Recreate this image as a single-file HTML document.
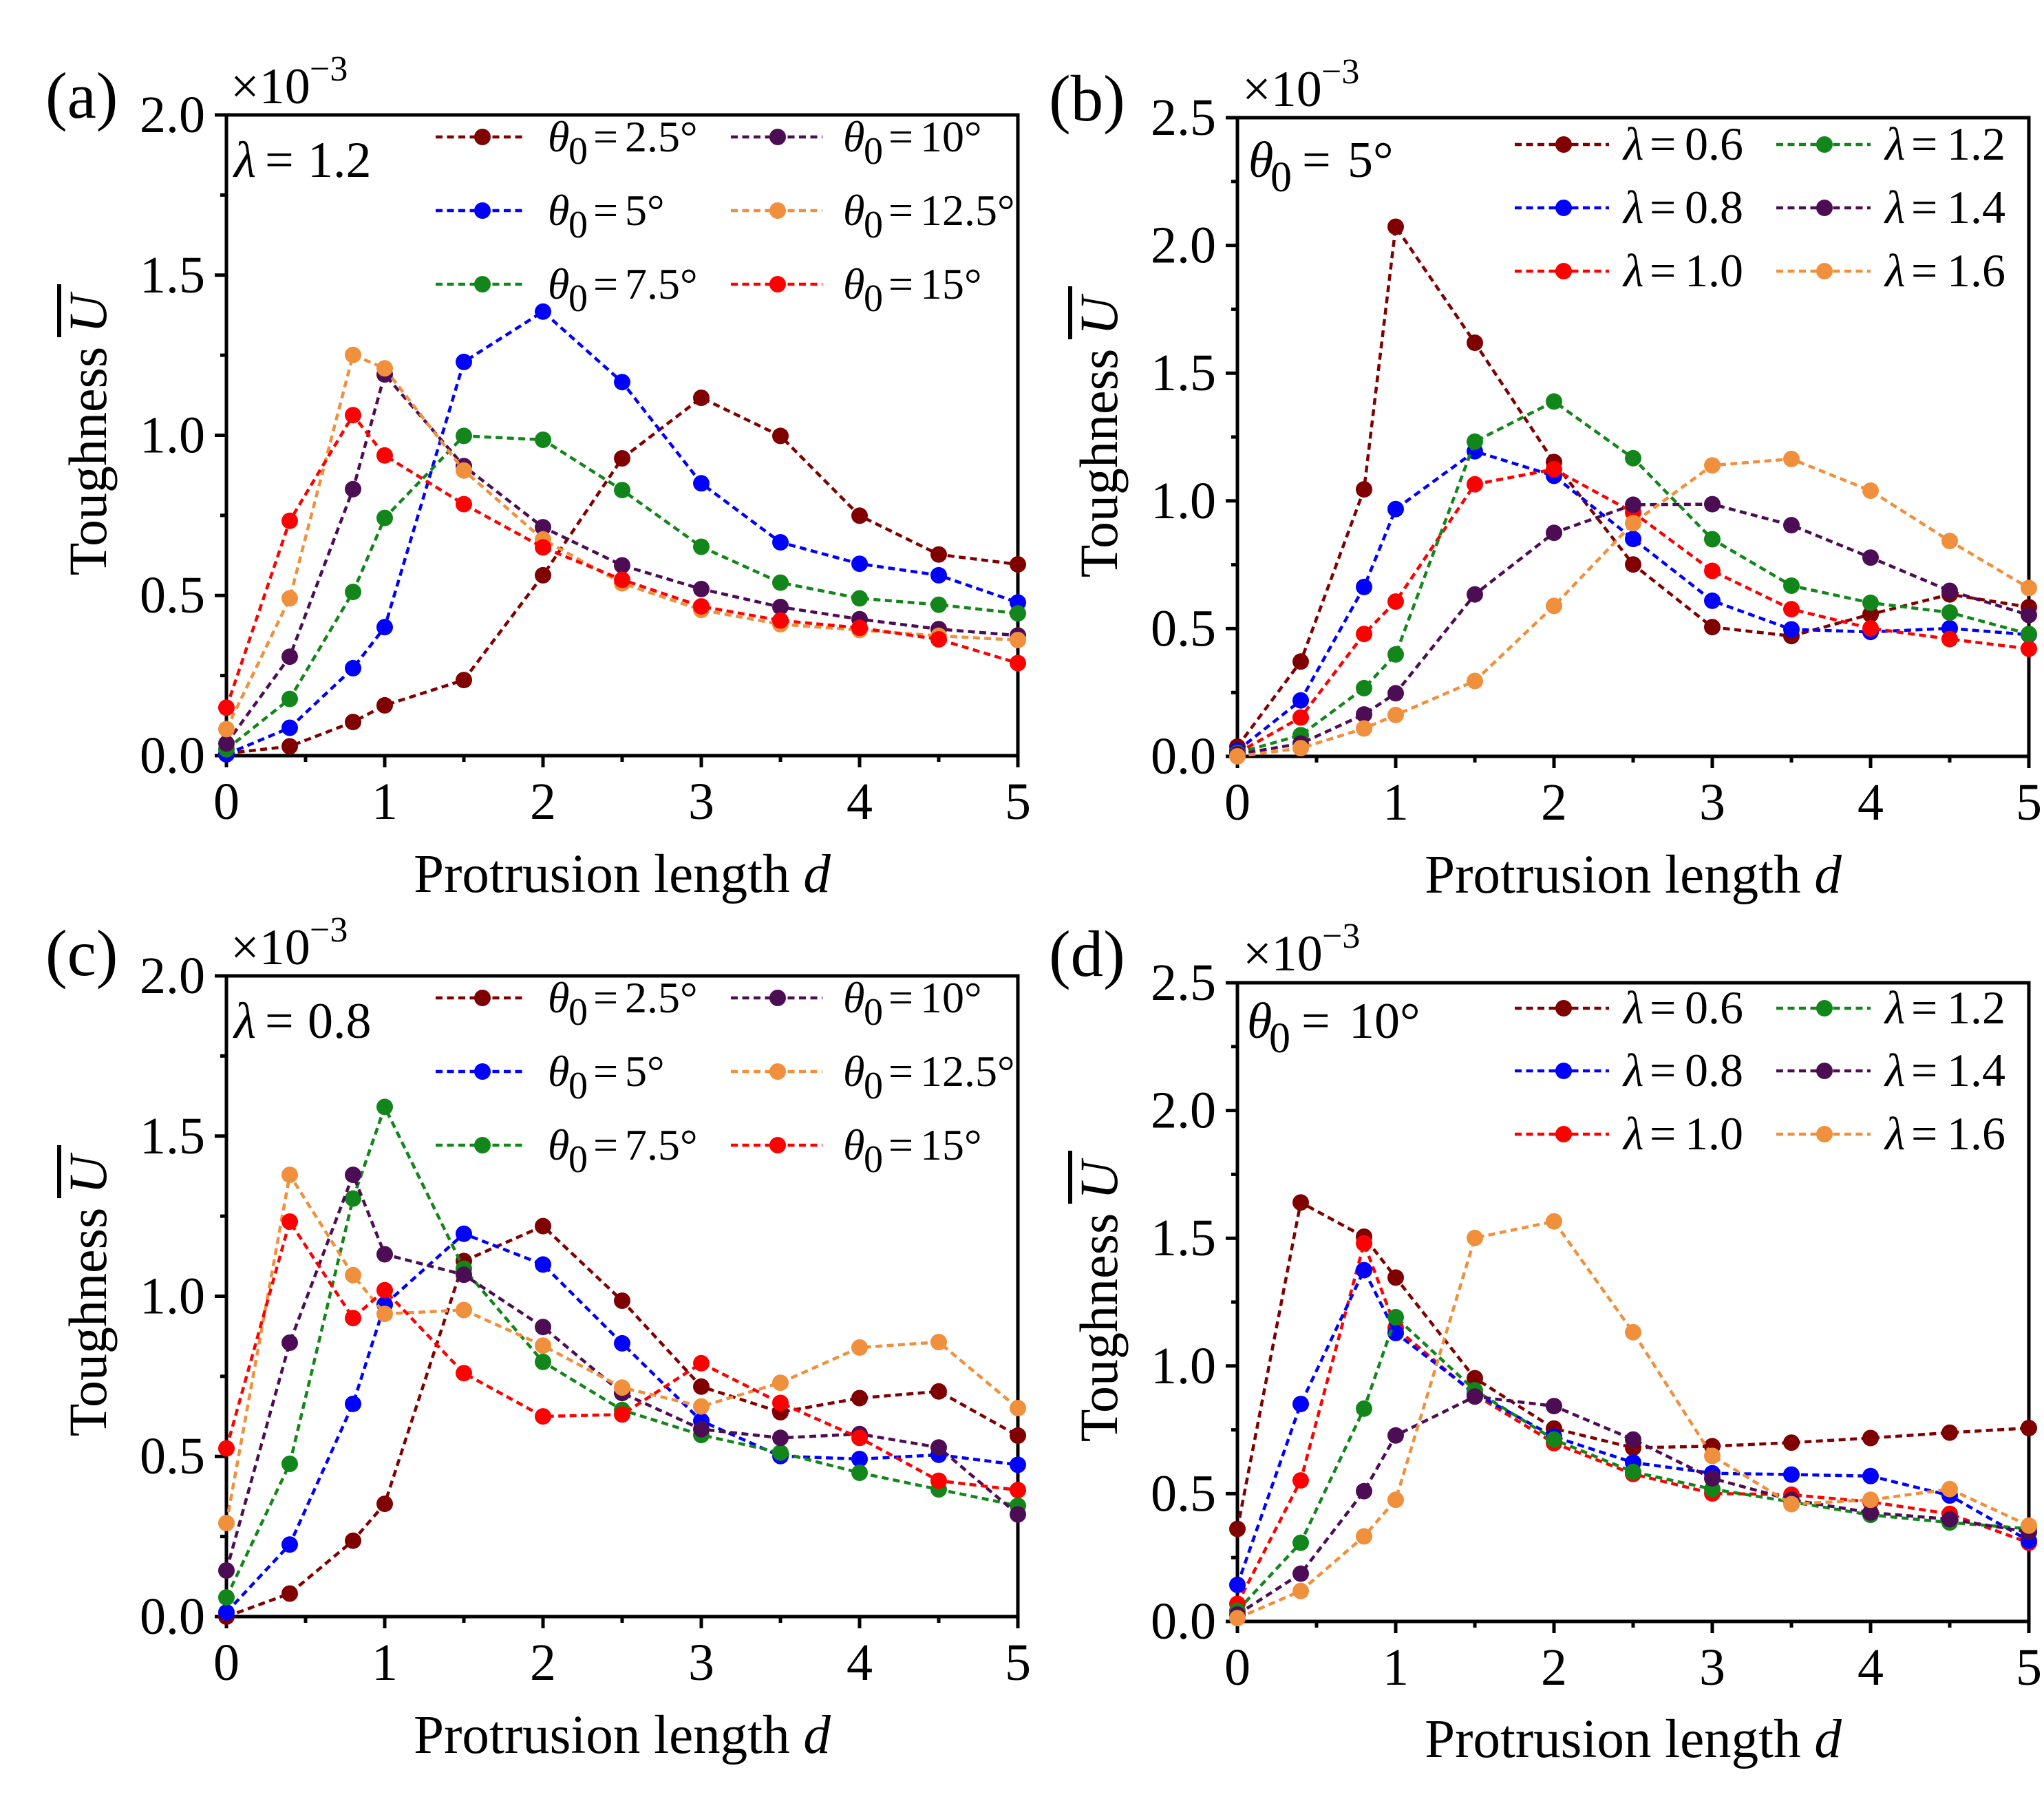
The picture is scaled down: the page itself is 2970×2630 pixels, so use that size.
<!DOCTYPE html>
<html><head><meta charset="utf-8"><style>
html,body{margin:0;padding:0;background:#fff}
svg{display:block}
text{font-family:"Liberation Serif","Times New Roman",serif;fill:#000}
.s{fill:none;stroke-width:4.5;stroke-dasharray:10 6.5}
.ax{fill:none;stroke:#000;stroke-width:5}
.tk{fill:none;stroke:#000;stroke-width:5}
.tl{font-size:76px}
.it{font-style:italic}
</style></head><body>
<svg xmlns="http://www.w3.org/2000/svg" width="2970" height="2630" viewBox="0 0 2970 2630">
<defs>
<marker id="m1" viewBox="-13 -13 26 26" markerWidth="26" markerHeight="26" markerUnits="userSpaceOnUse" refX="0" refY="0"><circle r="12" fill="#800000"/></marker>
<marker id="m2" viewBox="-13 -13 26 26" markerWidth="26" markerHeight="26" markerUnits="userSpaceOnUse" refX="0" refY="0"><circle r="12" fill="#0000ff"/></marker>
<marker id="m3" viewBox="-13 -13 26 26" markerWidth="26" markerHeight="26" markerUnits="userSpaceOnUse" refX="0" refY="0"><circle r="12" fill="#12861a"/></marker>
<marker id="m4" viewBox="-13 -13 26 26" markerWidth="26" markerHeight="26" markerUnits="userSpaceOnUse" refX="0" refY="0"><circle r="12" fill="#4d0d55"/></marker>
<marker id="m5" viewBox="-13 -13 26 26" markerWidth="26" markerHeight="26" markerUnits="userSpaceOnUse" refX="0" refY="0"><circle r="12" fill="#f0903c"/></marker>
<marker id="m6" viewBox="-13 -13 26 26" markerWidth="26" markerHeight="26" markerUnits="userSpaceOnUse" refX="0" refY="0"><circle r="12" fill="#ff0000"/></marker>
</defs>

<!-- ===================== PANEL (a) ===================== -->
<rect class="ax" x="329" y="167" width="1150" height="931"/>
<path class="tk" d="M312 1098H329M312 865.25H329M312 632.5H329M312 399.75H329M312 167H329M320 981.6H329M320 748.9H329M320 516.1H329M320 283.4H329M329 1098V1115M559 1098V1115M789 1098V1115M1019 1098V1115M1249 1098V1115M1479 1098V1115M444 1098V1107M674 1098V1107M904 1098V1107M1134 1098V1107M1364 1098V1107"/>
<g class="tl" text-anchor="end"><text x="298" y="1123">0.0</text><text x="298" y="890">0.5</text><text x="298" y="657.5">1.0</text><text x="298" y="425">1.5</text><text x="298" y="192">2.0</text></g>
<g class="tl" text-anchor="middle"><text x="329" y="1190">0</text><text x="559" y="1190">1</text><text x="789" y="1190">2</text><text x="1019" y="1190">3</text><text x="1249" y="1190">4</text><text x="1479" y="1190">5</text></g>
<text x="904" y="1296" text-anchor="middle" font-size="79">Protrusion length <tspan class="it">d</tspan></text>
<text transform="translate(154,632) rotate(-90)" text-anchor="middle" font-size="78">Toughness <tspan class="it">U</tspan></text>
<line x1="86" y1="413" x2="86" y2="490" stroke="#000" stroke-width="6"/>
<text x="66" y="171" font-size="95">(a)</text>
<text x="335" y="150" font-size="74">×10</text><text x="450" y="117" font-size="52">−3</text>
<text y="257" font-size="74"><tspan x="340" class="it">λ</tspan><tspan x="385">=</tspan><tspan x="447">1.2</tspan></text>

<polyline class="s" stroke="#800000" marker-start="url(#m1)" marker-mid="url(#m1)" marker-end="url(#m1)" points="329,1094.7 421,1084.5 513,1049.1 559,1024.9 674,988.1 789,835.9 904,666 1019,578 1134,633.4 1249,749.3 1364,805.7 1479,820.1"/>
<polyline class="s" stroke="#0000ff" marker-start="url(#m2)" marker-mid="url(#m2)" marker-end="url(#m2)" points="329,1096.1 421,1057.5 513,970.9 559,911.3 674,525.9 789,452.8 904,555.2 1019,702.3 1134,788 1249,819.2 1364,835.9 1479,875.5"/>
<polyline class="s" stroke="#12861a" marker-start="url(#m3)" marker-mid="url(#m3)" marker-end="url(#m3)" points="329,1088.7 421,1015.6 513,860.1 559,752.6 674,633.4 789,639 904,712.1 1019,794.5 1134,846.6 1249,869.4 1364,878.7 1479,891.3"/>
<polyline class="s" stroke="#4d0d55" marker-start="url(#m4)" marker-mid="url(#m4)" marker-end="url(#m4)" points="329,1080.3 421,954.2 513,710.7 559,544.1 674,677.2 789,766.1 904,821.5 1019,855.9 1134,882 1249,899.7 1364,914.1 1479,923.4"/>
<polyline class="s" stroke="#f0903c" marker-start="url(#m5)" marker-mid="url(#m5)" marker-end="url(#m5)" points="329,1059.4 421,869.4 513,515.7 559,535.2 674,683.7 789,783.8 904,847.6 1019,886.2 1134,907.1 1249,915.5 1364,923.9 1479,930"/>
<polyline class="s" stroke="#ff0000" marker-start="url(#m6)" marker-mid="url(#m6)" marker-end="url(#m6)" points="329,1028.2 421,756.8 513,603.2 559,661.8 674,732.6 789,795.4 904,842.4 1019,881.1 1134,901.6 1249,912.3 1364,929 1479,963.5"/>

<!-- legend a -->
<line class="s" x1="633" y1="199" x2="765" y2="199" stroke="#800000"/><circle cx="701" cy="199" r="12" fill="#800000"/>
<line class="s" x1="633" y1="306" x2="765" y2="306" stroke="#0000ff"/><circle cx="701" cy="306" r="12" fill="#0000ff"/>
<line class="s" x1="633" y1="413" x2="765" y2="413" stroke="#12861a"/><circle cx="701" cy="413" r="12" fill="#12861a"/>
<line class="s" x1="1062" y1="199" x2="1195" y2="199" stroke="#4d0d55"/><circle cx="1130" cy="199" r="12" fill="#4d0d55"/>
<line class="s" x1="1062" y1="306" x2="1195" y2="306" stroke="#f0903c"/><circle cx="1130" cy="306" r="12" fill="#f0903c"/>
<line class="s" x1="1062" y1="413" x2="1195" y2="413" stroke="#ff0000"/><circle cx="1130" cy="413" r="12" fill="#ff0000"/>
<g font-size="64">
<text y="220"><tspan x="796" class="it">θ</tspan><tspan x="826" y="238" font-size="56">0</tspan><tspan x="862" y="220">=</tspan><tspan x="908">2.5°</tspan></text>
<text y="327"><tspan x="796" class="it">θ</tspan><tspan x="826" y="345" font-size="56">0</tspan><tspan x="862" y="327">=</tspan><tspan x="908">5°</tspan></text>
<text y="434"><tspan x="796" class="it">θ</tspan><tspan x="826" y="452" font-size="56">0</tspan><tspan x="862" y="434">=</tspan><tspan x="908">7.5°</tspan></text>
<text y="220"><tspan x="1225" class="it">θ</tspan><tspan x="1255" y="238" font-size="56">0</tspan><tspan x="1291" y="220">=</tspan><tspan x="1337">10°</tspan></text>
<text y="327"><tspan x="1225" class="it">θ</tspan><tspan x="1255" y="345" font-size="56">0</tspan><tspan x="1291" y="327">=</tspan><tspan x="1337">12.5°</tspan></text>
<text y="434"><tspan x="1225" class="it">θ</tspan><tspan x="1255" y="452" font-size="56">0</tspan><tspan x="1291" y="434">=</tspan><tspan x="1337">15°</tspan></text>
</g>

<!-- ===================== PANEL (b) ===================== -->
<rect class="ax" x="1798" y="171" width="1150" height="928"/>
<path class="tk" d="M1781 1099H1798M1781 913.4H1798M1781 727.8H1798M1781 542.2H1798M1781 356.6H1798M1781 171H1798M1789 1006.2H1798M1789 820.6H1798M1789 635H1798M1789 449.4H1798M1789 263.8H1798M1798 1099V1116M2028 1099V1116M2258 1099V1116M2488 1099V1116M2718 1099V1116M2948 1099V1116M1913 1099V1108M2143 1099V1108M2373 1099V1108M2603 1099V1108M2833 1099V1108"/>
<g class="tl" text-anchor="end"><text x="1767" y="1124">0.0</text><text x="1767" y="938.4">0.5</text><text x="1767" y="752.8">1.0</text><text x="1767" y="567.2">1.5</text><text x="1767" y="381.6">2.0</text><text x="1767" y="196">2.5</text></g>
<g class="tl" text-anchor="middle"><text x="1798" y="1191">0</text><text x="2028" y="1191">1</text><text x="2258" y="1191">2</text><text x="2488" y="1191">3</text><text x="2718" y="1191">4</text><text x="2948" y="1191">5</text></g>
<text x="2373" y="1297" text-anchor="middle" font-size="79">Protrusion length <tspan class="it">d</tspan></text>
<text transform="translate(1623,635) rotate(-90)" text-anchor="middle" font-size="78">Toughness <tspan class="it">U</tspan></text>
<line x1="1555" y1="416" x2="1555" y2="493" stroke="#000" stroke-width="6"/>
<text x="1524" y="175" font-size="95">(b)</text>
<text x="1805" y="154" font-size="74">×10</text><text x="1920" y="121" font-size="52">−3</text>
<text y="257" font-size="74"><tspan x="1814" class="it">θ</tspan><tspan x="1846" y="278" font-size="62">0</tspan><tspan x="1892" y="257">=</tspan><tspan x="1958">5°</tspan></text>

<polyline class="s" stroke="#800000" marker-start="url(#m1)" marker-mid="url(#m1)" marker-end="url(#m1)" points="1798,1084.9 1890,961.3 1982,711.1 2028,329.5 2143,498 2258,671.4 2373,820.2 2488,911.2 2603,924.2 2718,892.6 2833,863.7 2948,882.2"/>
<polyline class="s" stroke="#0000ff" marker-start="url(#m2)" marker-mid="url(#m2)" marker-end="url(#m2)" points="1798,1090.8 1890,1017.7 1982,852.9 2028,739.7 2143,655.8 2258,691.4 2373,783.1 2488,872.9 2603,914.5 2718,918.2 2833,913 2948,922.3"/>
<polyline class="s" stroke="#ff0000" marker-start="url(#m6)" marker-mid="url(#m6)" marker-end="url(#m6)" points="1798,1094.2 1890,1042.6 1982,921.2 2028,874.1 2143,703.7 2258,681.8 2373,744.5 2488,829.5 2603,885.2 2718,913 2833,928.6 2948,942.7"/>
<polyline class="s" stroke="#12861a" marker-start="url(#m3)" marker-mid="url(#m3)" marker-end="url(#m3)" points="1798,1094.2 1890,1068.2 1982,999.9 2028,950.9 2143,641.7 2258,583.4 2373,665.8 2488,783.5 2603,851 2718,875.9 2833,890 2948,921.2"/>
<polyline class="s" stroke="#4d0d55" marker-start="url(#m4)" marker-mid="url(#m4)" marker-end="url(#m4)" points="1798,1096 1890,1080.4 1982,1038.1 2028,1007.3 2143,863.7 2258,774.2 2373,733.4 2488,732.6 2603,763.1 2718,810.2 2833,858.5 2948,893.7"/>
<polyline class="s" stroke="#f0903c" marker-start="url(#m5)" marker-mid="url(#m5)" marker-end="url(#m5)" points="1798,1099 1890,1087.1 1982,1058.5 2028,1038.9 2143,989.5 2258,880.4 2373,760.1 2488,676.2 2603,666.9 2718,713 2833,786.1 2948,854.4"/>

<!-- legend b -->
<line class="s" x1="2201" y1="210" x2="2338" y2="210" stroke="#800000"/><circle cx="2272" cy="210" r="12" fill="#800000"/>
<line class="s" x1="2201" y1="302" x2="2338" y2="302" stroke="#0000ff"/><circle cx="2272" cy="302" r="12" fill="#0000ff"/>
<line class="s" x1="2201" y1="394" x2="2338" y2="394" stroke="#ff0000"/><circle cx="2272" cy="394" r="12" fill="#ff0000"/>
<line class="s" x1="2581" y1="210" x2="2718" y2="210" stroke="#12861a"/><circle cx="2651" cy="210" r="12" fill="#12861a"/>
<line class="s" x1="2581" y1="302" x2="2718" y2="302" stroke="#4d0d55"/><circle cx="2651" cy="302" r="12" fill="#4d0d55"/>
<line class="s" x1="2581" y1="394" x2="2718" y2="394" stroke="#f0903c"/><circle cx="2651" cy="394" r="12" fill="#f0903c"/>
<g font-size="68">
<text y="232"><tspan x="2359" class="it">λ</tspan><tspan x="2397">=</tspan><tspan x="2448">0.6</tspan></text>
<text y="324"><tspan x="2359" class="it">λ</tspan><tspan x="2397">=</tspan><tspan x="2448">0.8</tspan></text>
<text y="416"><tspan x="2359" class="it">λ</tspan><tspan x="2397">=</tspan><tspan x="2448">1.0</tspan></text>
<text y="232"><tspan x="2739" class="it">λ</tspan><tspan x="2777">=</tspan><tspan x="2829">1.2</tspan></text>
<text y="324"><tspan x="2739" class="it">λ</tspan><tspan x="2777">=</tspan><tspan x="2829">1.4</tspan></text>
<text y="416"><tspan x="2739" class="it">λ</tspan><tspan x="2777">=</tspan><tspan x="2829">1.6</tspan></text>
</g>

<!-- ===================== PANEL (c) ===================== -->
<rect class="ax" x="329" y="1418" width="1150" height="931"/>
<path class="tk" d="M312 2349H329M312 2116.25H329M312 1883.5H329M312 1650.75H329M312 1418H329M320 2232.6H329M320 1999.9H329M320 1767.1H329M320 1534.4H329M329 2349V2366M559 2349V2366M789 2349V2366M1019 2349V2366M1249 2349V2366M1479 2349V2366M444 2349V2358M674 2349V2358M904 2349V2358M1134 2349V2358M1364 2349V2358"/>
<g class="tl" text-anchor="end"><text x="298" y="2374">0.0</text><text x="298" y="2141">0.5</text><text x="298" y="1908.5">1.0</text><text x="298" y="1676">1.5</text><text x="298" y="1443">2.0</text></g>
<g class="tl" text-anchor="middle"><text x="329" y="2441">0</text><text x="559" y="2441">1</text><text x="789" y="2441">2</text><text x="1019" y="2441">3</text><text x="1249" y="2441">4</text><text x="1479" y="2441">5</text></g>
<text x="904" y="2547" text-anchor="middle" font-size="79">Protrusion length <tspan class="it">d</tspan></text>
<text transform="translate(154,1883) rotate(-90)" text-anchor="middle" font-size="78">Toughness <tspan class="it">U</tspan></text>
<line x1="86" y1="1664" x2="86" y2="1741" stroke="#000" stroke-width="6"/>
<text x="66" y="1417" font-size="95">(c)</text>
<text x="335" y="1401" font-size="74">×10</text><text x="450" y="1368" font-size="52">−3</text>
<text y="1508" font-size="74"><tspan x="340" class="it">λ</tspan><tspan x="385">=</tspan><tspan x="447">0.8</tspan></text>

<polyline class="s" stroke="#800000" marker-start="url(#m1)" marker-mid="url(#m1)" marker-end="url(#m1)" points="329,2349 421,2315.5 513,2238.7 559,2185.1 674,1832.3 789,1781.6 904,1890 1019,2014.8 1134,2052 1249,2031.5 1364,2021.8 1479,2086"/>
<polyline class="s" stroke="#0000ff" marker-start="url(#m2)" marker-mid="url(#m2)" marker-end="url(#m2)" points="329,2342.9 421,2244.3 513,2039.9 559,1895.6 674,1792.7 789,1837.4 904,1951.9 1019,2064.6 1134,2115.8 1249,2120 1364,2113.9 1479,2128.4"/>
<polyline class="s" stroke="#12861a" marker-start="url(#m3)" marker-mid="url(#m3)" marker-end="url(#m3)" points="329,2321.1 421,2127 513,1741.5 559,1608.4 674,1843.5 789,1978.9 904,2048.8 1019,2085.1 1134,2110.7 1249,2140 1364,2164.2 1479,2187.9"/>
<polyline class="s" stroke="#4d0d55" marker-start="url(#m4)" marker-mid="url(#m4)" marker-end="url(#m4)" points="329,2282 421,1951 513,1707.1 559,1822.5 674,1852.3 789,1928.2 904,2024.1 1019,2076.7 1134,2089.3 1249,2083.7 1364,2103.2 1479,2200.5"/>
<polyline class="s" stroke="#f0903c" marker-start="url(#m5)" marker-mid="url(#m5)" marker-end="url(#m5)" points="329,2213.1 421,1707.1 513,1852.8 559,1909.1 674,1903.5 789,1955.2 904,2016.2 1019,2043.6 1134,2009.2 1249,1958 1364,1950.1 1479,2046"/>
<polyline class="s" stroke="#ff0000" marker-start="url(#m6)" marker-mid="url(#m6)" marker-end="url(#m6)" points="329,2104.6 421,1775 513,1915.2 559,1874.7 674,1995.2 789,2058.1 904,2055.3 1019,1980.8 1134,2038.5 1249,2089.3 1364,2151.6 1479,2165.1"/>

<!-- legend c -->
<line class="s" x1="633" y1="1450" x2="765" y2="1450" stroke="#800000"/><circle cx="701" cy="1450" r="12" fill="#800000"/>
<line class="s" x1="633" y1="1557" x2="765" y2="1557" stroke="#0000ff"/><circle cx="701" cy="1557" r="12" fill="#0000ff"/>
<line class="s" x1="633" y1="1664" x2="765" y2="1664" stroke="#12861a"/><circle cx="701" cy="1664" r="12" fill="#12861a"/>
<line class="s" x1="1062" y1="1450" x2="1195" y2="1450" stroke="#4d0d55"/><circle cx="1130" cy="1450" r="12" fill="#4d0d55"/>
<line class="s" x1="1062" y1="1557" x2="1195" y2="1557" stroke="#f0903c"/><circle cx="1130" cy="1557" r="12" fill="#f0903c"/>
<line class="s" x1="1062" y1="1664" x2="1195" y2="1664" stroke="#ff0000"/><circle cx="1130" cy="1664" r="12" fill="#ff0000"/>
<g font-size="64">
<text y="1471"><tspan x="796" class="it">θ</tspan><tspan x="826" y="1489" font-size="56">0</tspan><tspan x="862" y="1471">=</tspan><tspan x="908">2.5°</tspan></text>
<text y="1578"><tspan x="796" class="it">θ</tspan><tspan x="826" y="1596" font-size="56">0</tspan><tspan x="862" y="1578">=</tspan><tspan x="908">5°</tspan></text>
<text y="1685"><tspan x="796" class="it">θ</tspan><tspan x="826" y="1703" font-size="56">0</tspan><tspan x="862" y="1685">=</tspan><tspan x="908">7.5°</tspan></text>
<text y="1471"><tspan x="1225" class="it">θ</tspan><tspan x="1255" y="1489" font-size="56">0</tspan><tspan x="1291" y="1471">=</tspan><tspan x="1337">10°</tspan></text>
<text y="1578"><tspan x="1225" class="it">θ</tspan><tspan x="1255" y="1596" font-size="56">0</tspan><tspan x="1291" y="1578">=</tspan><tspan x="1337">12.5°</tspan></text>
<text y="1685"><tspan x="1225" class="it">θ</tspan><tspan x="1255" y="1703" font-size="56">0</tspan><tspan x="1291" y="1685">=</tspan><tspan x="1337">15°</tspan></text>
</g>

<!-- ===================== PANEL (d) ===================== -->
<rect class="ax" x="1798" y="1428" width="1150" height="928"/>
<path class="tk" d="M1781 2356H1798M1781 2170.4H1798M1781 1984.8H1798M1781 1799.2H1798M1781 1613.6H1798M1781 1428H1798M1789 2263.2H1798M1789 2077.6H1798M1789 1892H1798M1789 1706.4H1798M1789 1520.8H1798M1798 2356V2373M2028 2356V2373M2258 2356V2373M2488 2356V2373M2718 2356V2373M2948 2356V2373M1913 2356V2365M2143 2356V2365M2373 2356V2365M2603 2356V2365M2833 2356V2365"/>
<g class="tl" text-anchor="end"><text x="1767" y="2381">0.0</text><text x="1767" y="2195.4">0.5</text><text x="1767" y="2009.8">1.0</text><text x="1767" y="1824.2">1.5</text><text x="1767" y="1638.6">2.0</text><text x="1767" y="1453">2.5</text></g>
<g class="tl" text-anchor="middle"><text x="1798" y="2448">0</text><text x="2028" y="2448">1</text><text x="2258" y="2448">2</text><text x="2488" y="2448">3</text><text x="2718" y="2448">4</text><text x="2948" y="2448">5</text></g>
<text x="2373" y="2553" text-anchor="middle" font-size="79">Protrusion length <tspan class="it">d</tspan></text>
<text transform="translate(1623,1891) rotate(-90)" text-anchor="middle" font-size="78">Toughness <tspan class="it">U</tspan></text>
<line x1="1555" y1="1672" x2="1555" y2="1749" stroke="#000" stroke-width="6"/>
<text x="1524" y="1418" font-size="95">(d)</text>
<text x="1806" y="1410" font-size="74">×10</text><text x="1921" y="1377" font-size="52">−3</text>
<text y="1508" font-size="74"><tspan x="1812" class="it">θ</tspan><tspan x="1844" y="1529" font-size="62">0</tspan><tspan x="1891" y="1508">=</tspan><tspan x="1960">10°</tspan></text>

<polyline class="s" stroke="#800000" marker-start="url(#m1)" marker-mid="url(#m1)" marker-end="url(#m1)" points="1798,2221.6 1890,1747.2 1982,1797 2028,1856.4 2143,2002.6 2258,2075.7 2373,2103.6 2488,2101.4 2603,2096.2 2718,2089.5 2833,2081.7 2948,2075"/>
<polyline class="s" stroke="#ff0000" marker-start="url(#m6)" marker-mid="url(#m6)" marker-end="url(#m6)" points="1798,2330.4 1890,2151.1 1982,1806.6 2028,1929.5 2143,2026.4 2258,2096.9 2373,2141.8 2488,2170 2603,2171.9 2718,2182.3 2833,2199.7 2948,2241.7"/>
<polyline class="s" stroke="#0000ff" marker-start="url(#m2)" marker-mid="url(#m2)" marker-end="url(#m2)" points="1798,2302.9 1890,2040.1 1982,1845.6 2028,1936.9 2143,2024.5 2258,2087.6 2373,2125.1 2488,2140.7 2603,2142.6 2718,2144.8 2833,2173 2948,2238.7"/>
<polyline class="s" stroke="#12861a" marker-start="url(#m3)" marker-mid="url(#m3)" marker-end="url(#m3)" points="1798,2340.4 1890,2241.7 1982,2046.8 2028,1913.9 2143,2020.1 2258,2091.7 2373,2138.8 2488,2163.7 2603,2182.3 2718,2201.2 2833,2212.3 2948,2221.3"/>
<polyline class="s" stroke="#4d0d55" marker-start="url(#m4)" marker-mid="url(#m4)" marker-end="url(#m4)" points="1798,2346 1890,2286.6 1982,2166.7 2028,2085.8 2143,2029.3 2258,2043.1 2373,2091.7 2488,2148.1 2603,2179.3 2718,2197.9 2833,2207.5 2948,2226.1"/>
<polyline class="s" stroke="#f0903c" marker-start="url(#m5)" marker-mid="url(#m5)" marker-end="url(#m5)" points="1798,2351.2 1890,2311.8 1982,2232.4 2028,2179.3 2143,1798.8 2258,1774.7 2373,1935.8 2488,2115.5 2603,2185.6 2718,2179.3 2833,2163.7 2948,2216.8"/>

<!-- legend d -->
<line class="s" x1="2201" y1="1465" x2="2338" y2="1465" stroke="#800000"/><circle cx="2272" cy="1465" r="12" fill="#800000"/>
<line class="s" x1="2201" y1="1556" x2="2338" y2="1556" stroke="#0000ff"/><circle cx="2272" cy="1556" r="12" fill="#0000ff"/>
<line class="s" x1="2201" y1="1648" x2="2338" y2="1648" stroke="#ff0000"/><circle cx="2272" cy="1648" r="12" fill="#ff0000"/>
<line class="s" x1="2581" y1="1465" x2="2718" y2="1465" stroke="#12861a"/><circle cx="2651" cy="1465" r="12" fill="#12861a"/>
<line class="s" x1="2581" y1="1556" x2="2718" y2="1556" stroke="#4d0d55"/><circle cx="2651" cy="1556" r="12" fill="#4d0d55"/>
<line class="s" x1="2581" y1="1648" x2="2718" y2="1648" stroke="#f0903c"/><circle cx="2651" cy="1648" r="12" fill="#f0903c"/>
<g font-size="68">
<text y="1487"><tspan x="2359" class="it">λ</tspan><tspan x="2397">=</tspan><tspan x="2448">0.6</tspan></text>
<text y="1578"><tspan x="2359" class="it">λ</tspan><tspan x="2397">=</tspan><tspan x="2448">0.8</tspan></text>
<text y="1670"><tspan x="2359" class="it">λ</tspan><tspan x="2397">=</tspan><tspan x="2448">1.0</tspan></text>
<text y="1487"><tspan x="2739" class="it">λ</tspan><tspan x="2777">=</tspan><tspan x="2829">1.2</tspan></text>
<text y="1578"><tspan x="2739" class="it">λ</tspan><tspan x="2777">=</tspan><tspan x="2829">1.4</tspan></text>
<text y="1670"><tspan x="2739" class="it">λ</tspan><tspan x="2777">=</tspan><tspan x="2829">1.6</tspan></text>
</g>
</svg>
</body></html>
